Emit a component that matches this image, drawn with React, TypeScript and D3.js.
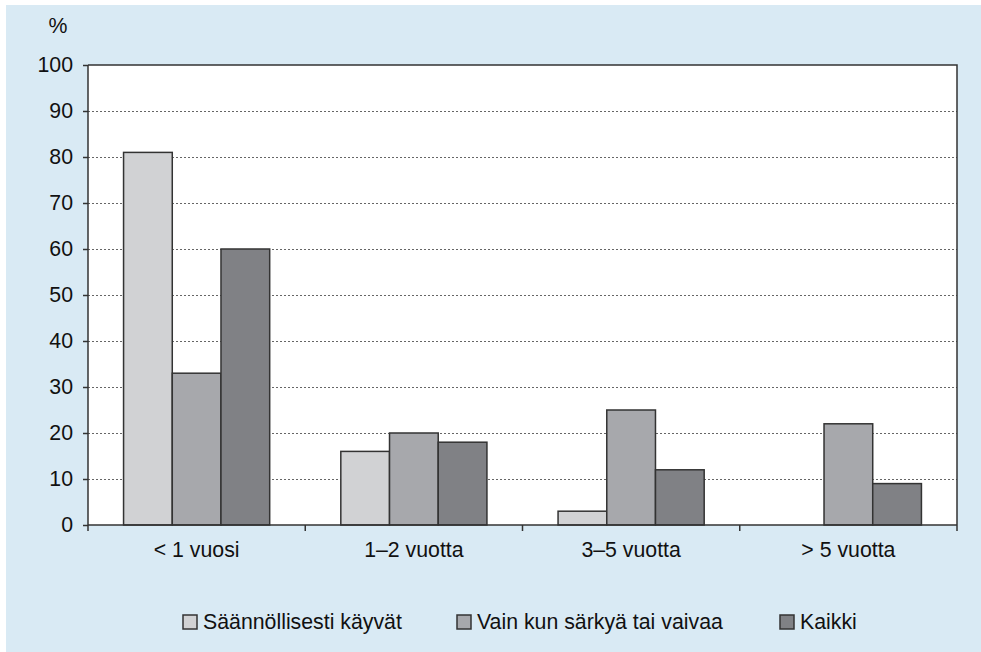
import React, { useEffect, useRef } from "react";
import * as d3 from "d3";

const categories = ["< 1 vuosi", "1–2 vuotta", "3–5 vuotta", "> 5 vuotta"];
const seriesNames = ["Säännöllisesti käyvät", "Vain kun särkyä tai vaivaa", "Kaikki"];
const regular = [81, 16, 3, 0];
const onlyWhenPain = [33, 20, 25, 22];
const everyone = [60, 18, 12, 9];
const yTicks = [0, 10, 20, 30, 40, 50, 60, 70, 80, 90, 100];

const colors = ["#d1d2d4", "#a7a8ac", "#808185"];
const legendX = [183, 457, 780];

export default function App() {
  const svgRef = useRef<SVGSVGElement>(null);

  useEffect(() => {
    const svg = d3.select(svgRef.current);
    svg.selectAll("*").remove();

    const width = 981;
    const height = 652;
    const margin = { top: 65, right: 24, bottom: 127, left: 88 };
    const font = "'Liberation Sans', Arial, sans-serif";
    const fs = 21.3;

    // light blue panel
    svg.append("rect")
      .attr("x", 6).attr("y", 5)
      .attr("width", width - 6).attr("height", height - 5)
      .attr("fill", "#d9eaf4");

    const x0 = d3.scaleBand<string>()
      .domain(categories)
      .range([margin.left, width - margin.right]);

    const x1 = d3.scaleBand<string>()
      .domain(seriesNames)
      .range([0, x0.bandwidth()])
      .paddingInner(0)
      .paddingOuter(0.73);

    const y = d3.scaleLinear()
      .domain([0, 100])
      .range([height - margin.bottom, margin.top]);

    // plot area
    svg.append("rect")
      .attr("x", margin.left).attr("y", margin.top)
      .attr("width", width - margin.right - margin.left)
      .attr("height", y(0) - margin.top)
      .attr("fill", "#ffffff");

    // grid lines
    svg.append("g")
      .selectAll("line")
      .data(yTicks.filter((t) => t > 0 && t < 100))
      .join("line")
      .attr("x1", margin.left).attr("x2", width - margin.right)
      .attr("y1", (d) => y(d) + 0.5).attr("y2", (d) => y(d) + 0.5)
      .attr("stroke", "#666")
      .attr("stroke-width", 1)
      .attr("stroke-dasharray", "2,2");

    // frame top / right
    svg.append("path")
      .attr("d", `M${margin.left},${y(100)}H${width - margin.right}V${y(0)}`)
      .attr("fill", "none")
      .attr("stroke", "#333")
      .attr("stroke-width", 1.5);

    const values = [regular, onlyWhenPain, everyone];

    // bars
    const groups = svg.append("g")
      .selectAll("g")
      .data(categories)
      .join("g")
      .attr("transform", (d) => `translate(${x0(d)},0)`);

    groups.selectAll("rect")
      .data((_, i) => seriesNames.map((s, k) => ({ s, k, v: values[k][i] })))
      .join("rect")
      .filter((d) => d.v > 0)
      .attr("x", (d) => x1(d.s)!)
      .attr("y", (d) => y(d.v))
      .attr("width", x1.bandwidth())
      .attr("height", (d) => y(0) - y(d.v))
      .attr("fill", (d) => colors[d.k])
      .attr("stroke", "#333")
      .attr("stroke-width", 1.5);

    // y axis
    const yAxis = d3.axisLeft(y).tickValues(yTicks).tickSize(5).tickPadding(10);
    const gy = svg.append("g")
      .attr("transform", `translate(${margin.left},0)`)
      .call(yAxis);
    gy.select(".domain").remove();
    gy.append("line")
      .attr("x1", 0).attr("x2", 0)
      .attr("y1", y(100)).attr("y2", y(0) + 6)
      .attr("stroke", "#333").attr("stroke-width", 1.5);
    gy.selectAll(".tick line").attr("stroke", "#333").attr("stroke-width", 1.5);
    gy.selectAll(".tick text")
      .attr("font-family", font)
      .attr("font-size", fs)
      .attr("fill", "#111");

    // x axis baseline and group ticks
    const gx = svg.append("g");
    gx.append("line")
      .attr("x1", margin.left).attr("x2", width - margin.right)
      .attr("y1", y(0)).attr("y2", y(0))
      .attr("stroke", "#333").attr("stroke-width", 1.5);
    const bounds = categories.map((c) => x0(c)! + x0.bandwidth());
    gx.selectAll(".sep")
      .data(bounds)
      .join("line")
      .attr("class", "sep")
      .attr("x1", (d) => d).attr("x2", (d) => d)
      .attr("y1", y(0)).attr("y2", y(0) + 6)
      .attr("stroke", "#333").attr("stroke-width", 1.5);
    gx.selectAll("text")
      .data(categories)
      .join("text")
      .attr("x", (d) => x0(d)! + x0.bandwidth() / 2)
      .attr("y", y(0) + 32)
      .attr("text-anchor", "middle")
      .attr("font-family", font)
      .attr("font-size", fs)
      .attr("fill", "#111")
      .text((d) => d);

    // % label
    svg.append("text")
      .attr("x", 58).attr("y", 33)
      .attr("text-anchor", "middle")
      .attr("font-family", font)
      .attr("font-size", fs)
      .attr("fill", "#111")
      .text("%");

    // legend
    const legend = svg.append("g")
      .selectAll("g")
      .data(seriesNames)
      .join("g")
      .attr("transform", (_, i) => `translate(${legendX[i]},615)`);
    legend.append("rect")
      .attr("width", 14).attr("height", 14)
      .attr("fill", (_, i) => colors[i])
      .attr("stroke", "#333")
      .attr("stroke-width", 1.5);
    legend.append("text")
      .attr("x", 20).attr("y", 13.5)
      .attr("font-family", font)
      .attr("font-size", fs)
      .attr("fill", "#111")
      .text((d) => d);
  }, []);

  return (
    <svg
      ref={svgRef}
      width={981}
      height={652}
      style={{ position: "absolute", left: 0, top: 0, display: "block" }}
    />
  );
}
